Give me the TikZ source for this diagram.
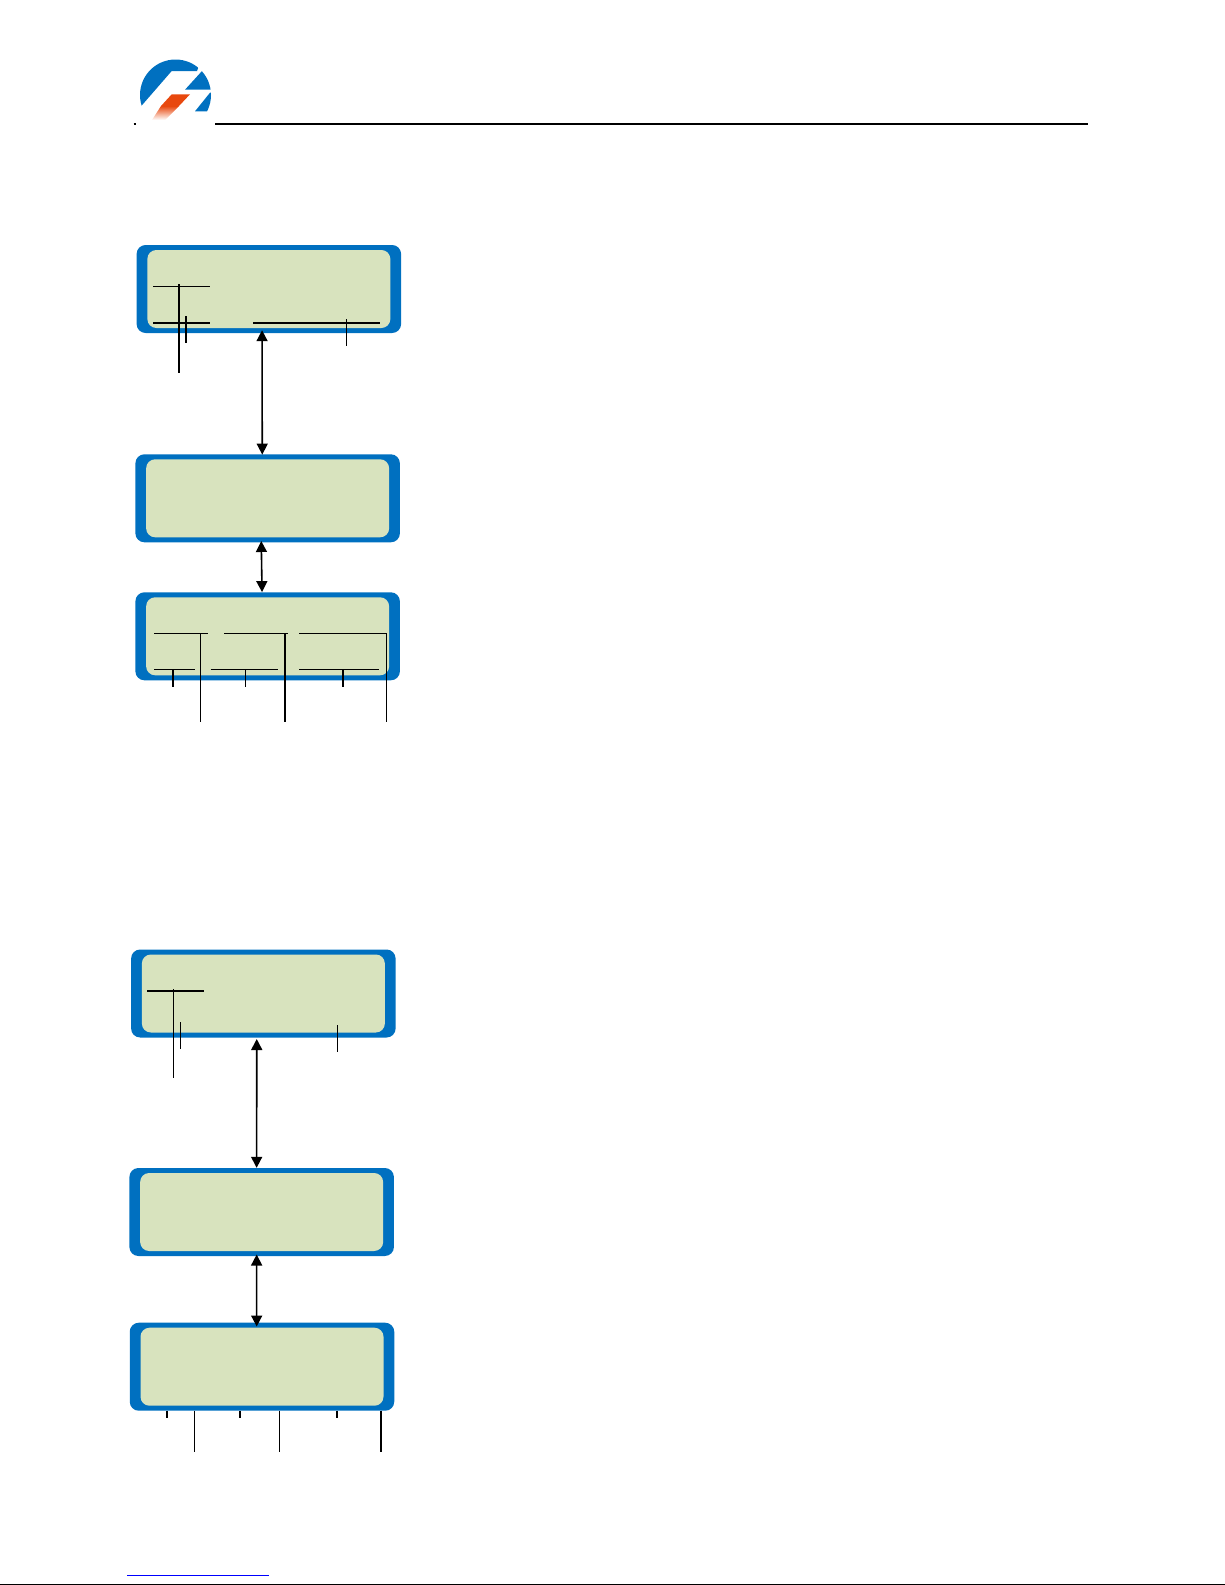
\documentclass[tikz,border=0pt]{standalone}
\usepackage{color}
\usetikzlibrary{arrows.meta}
\definecolor{lcdblue}{RGB}{0,112,192}
\definecolor{lcdgreen}{RGB}{216,227,190}
\definecolor{logored}{RGB}{232,72,14}
\tikzset{
  lcdframe/.style={fill=lcdblue,rounded corners=9pt,minimum width=264.5pt,minimum height=88pt,inner sep=0pt},
  lcdscreen/.style={fill=lcdgreen,rounded corners=9pt,minimum width=243pt,minimum height=78pt,inner sep=0pt},
  leadthin/.style={line width=1pt},
  leadthick/.style={line width=1.8pt},
  both/.style={{Triangle[length=11pt,width=11pt]}-{Triangle[length=11pt,width=11pt]},line width=1.6pt}
}
\begin{document}
\begin{tikzpicture} [x=1pt,y=-1pt]
\useasboundingbox (0,0) rectangle (1225,1585);
% header
\begin{scope}
\clip (175.5,95) circle (35.5);
\fill[lcdblue] (130,119)--(171.7,71)--(197,71)--(205,50)--(130,50)--cycle;
\fill[lcdblue] (185,89.7)--(202,71)--(215,71)--(215,89.7)--cycle;
\fill[lcdblue] (195,111.3)--(210,92.7)--(215,92.7)--(215,111.3)--cycle;
\end{scope}
\fill[logored] (171.7,94.3)--(190,94.3)--(179,106)--(161,106)--cycle;
\shade[top color=logored,bottom color=white] (161,106)--(179,106)--(165,120)--(152,120)--cycle;
\coordinate (h1) at (215,124);
\coordinate (h2) at (1087.5,124);
\draw[leadthick] (h1)--(h2);
\coordinate (h3) at (133.5,124);
\coordinate (h4) at (136,124);
\draw[leadthick] (h3)--(h4);
% first group of displays
\node[lcdframe] (lcd1) at (268.85,289) {};
\node[lcdscreen] (scr1) at (lcd1.center) {};
\node[lcdframe] (lcd2) at (267.65,498.3) {};
\node[lcdscreen] (scr2) at (lcd2.center) {};
\node[lcdframe] (lcd3) at (267.65,636.3) {};
\node[lcdscreen] (scr3) at (lcd3.center) {};
\draw[both] ([xshift=-6.8,yshift=3]lcd1.south)--([xshift=-5.4,yshift=-0.5]lcd2.north);
\draw[both] ([xshift=-6.4,yshift=1.5]lcd2.south)--([xshift=-5.6]lcd3.north);
% leaders of display 1
\coordinate (a1) at (153.3,286.3);
\coordinate (a2) at (210,286.3);
\coordinate (a3) at (153.3,322.7);
\coordinate (a4) at (210,322.7);
\coordinate (a5) at (253.3,322.7);
\coordinate (a6) at (380,322.7);
\coordinate (a7) at (179,284);
\coordinate (a8) at (179,372.7);
\coordinate (a9) at (186,316);
\coordinate (a10) at (186,343.3);
\coordinate (a11) at (346.3,319.3);
\coordinate (a12) at (346.3,346);
\draw[leadthin] (a1)--(a2);
\draw[leadthick] (a3)--(a4);
\draw[leadthick] (a5)--(a6);
\draw[leadthick] (a7)--(a8);
\draw[leadthick] (a9)--(a10);
\draw[leadthin] (a11)--(a12);
% leaders of display 3
\coordinate (c1) at (154,633);
\coordinate (c2) at (208,633);
\coordinate (c3) at (224,633);
\coordinate (c4) at (288.3,633);
\coordinate (c5) at (299.3,633);
\coordinate (c6) at (386.8,633);
\coordinate (c7) at (154,669.3);
\coordinate (c8) at (195,669.3);
\coordinate (c9) at (210.7,669.3);
\coordinate (c10) at (278.3,669.3);
\coordinate (c11) at (299.3,669.3);
\coordinate (c12) at (378.7,669.3);
\coordinate (c13) at (173,669.3);
\coordinate (c14) at (173,687.3);
\coordinate (c15) at (245.3,669.3);
\coordinate (c16) at (245.3,687.3);
\coordinate (c17) at (343,669.3);
\coordinate (c18) at (343,687.3);
\coordinate (c19) at (200.3,633);
\coordinate (c20) at (200.3,721.7);
\coordinate (c21) at (285,633);
\coordinate (c22) at (285,721.7);
\coordinate (c23) at (386.3,633);
\coordinate (c24) at (386.3,721.7);
\draw[leadthin] (c1)--(c2);
\draw[leadthin] (c3)--(c4);
\draw[leadthin] (c5)--(c6);
\draw[leadthin] (c7)--(c8);
\draw[leadthin] (c9)--(c10);
\draw[leadthin] (c11)--(c12);
\draw[leadthick] (c13)--(c14);
\draw[leadthin] (c15)--(c16);
\draw[leadthick] (c17)--(c18);
\draw[leadthin] (c19)--(c20);
\draw[leadthick] (c21)--(c22);
\draw[leadthin] (c23)--(c24);
% second group of displays
\node[lcdframe] (lcd4) at (263.35,993.5) {};
\node[lcdscreen] (scr4) at (lcd4.center) {};
\node[lcdframe] (lcd5) at (261.65,1212) {};
\node[lcdscreen] (scr5) at (lcd5.center) {};
\node[lcdframe] (lcd6) at (262,1366.7) {};
\node[lcdscreen] (scr6) at (lcd6.center) {};
\draw[both] ([xshift=-6.6,yshift=-1.3]lcd4.south)--([xshift=-5]lcd5.north);
\draw[both] ([xshift=-5,yshift=1.7]lcd5.south)--([xshift=-5.3,yshift=-4]lcd6.north);
% leaders of display 4
\coordinate (d1) at (147,991);
\coordinate (d2) at (204,991);
\coordinate (d3) at (173.3,989.3);
\coordinate (d4) at (173.3,1078.3);
\coordinate (d5) at (180.3,1022);
\coordinate (d6) at (180.3,1049.3);
\coordinate (d7) at (337.7,1025);
\coordinate (d8) at (337.7,1051.7);
\draw[leadthick] (d1)--(d2);
\draw[leadthin] (d3)--(d4);
\draw[leadthin] (d5)--(d6);
\draw[leadthin] (d7)--(d8);
% leaders of display 6
\coordinate (f1) at (167,1410.7);
\coordinate (f2) at (167,1417.7);
\coordinate (f3) at (240,1410.7);
\coordinate (f4) at (240,1417.7);
\coordinate (f5) at (337,1410.7);
\coordinate (f6) at (337,1417.7);
\coordinate (f7) at (194.3,1410.7);
\coordinate (f8) at (194.3,1452.3);
\coordinate (f9) at (279.3,1410.7);
\coordinate (f10) at (279.3,1452.3);
\coordinate (f11) at (381,1410.7);
\coordinate (f12) at (381,1452.3);
\draw[leadthick] (f1)--(f2);
\draw[leadthick] (f3)--(f4);
\draw[leadthick] (f5)--(f6);
\draw[leadthin] (f7)--(f8);
\draw[leadthin] (f9)--(f10);
\draw[leadthick] (f11)--(f12);
% footer
\coordinate (k1) at (127.3,1575.7);
\coordinate (k2) at (269,1575.7);
\draw[leadthin,blue] (k1)--(k2);
\coordinate (k3) at (0,1584);
\coordinate (k4) at (1225,1584);
\draw[leadthin] (k3)--(k4);
\end{tikzpicture}
\end{document}
